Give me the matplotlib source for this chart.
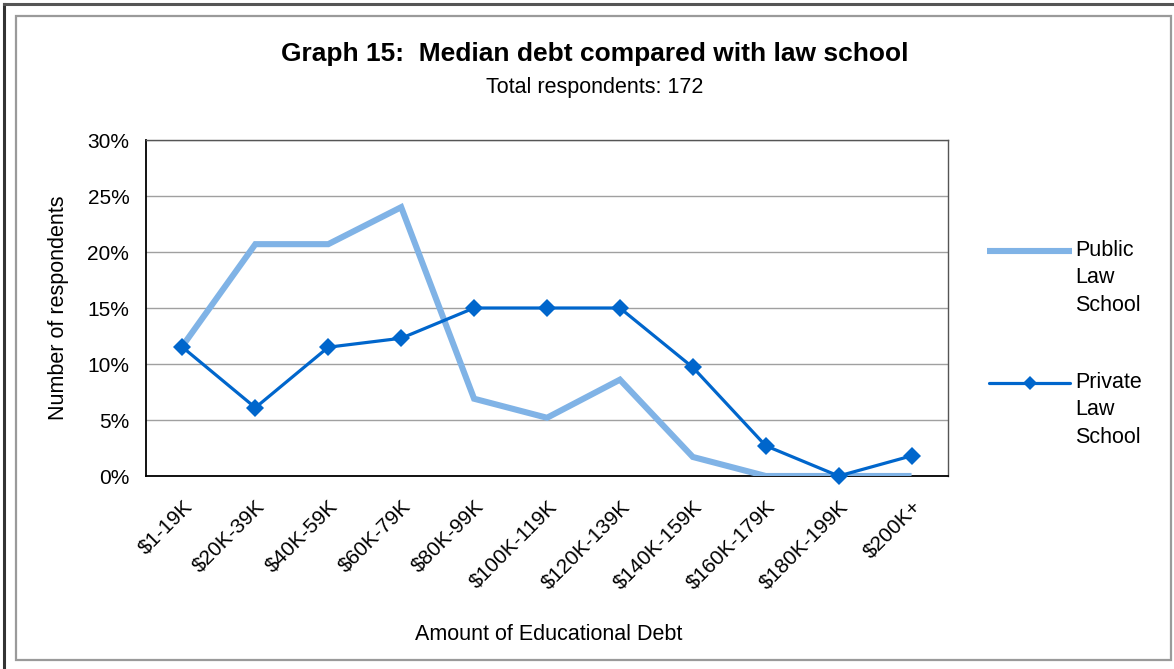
import matplotlib
matplotlib.use("Agg")
import matplotlib.pyplot as plt
from matplotlib.lines import Line2D
from matplotlib.patches import Rectangle
from matplotlib.ticker import FuncFormatter, MultipleLocator
from matplotlib.transforms import ScaledTranslation

plt.rcParams['font.family'] = ['Liberation Sans', 'DejaVu Sans']

categories = ["$1-19K", "$20K-39K", "$40K-59K", "$60K-79K", "$80K-99K",
              "$100K-119K", "$120K-139K", "$140K-159K", "$160K-179K",
              "$180K-199K", "$200K+"]
public_pct = [11.6, 20.7, 20.7, 24.0, 6.9, 5.2, 8.6, 1.7, 0.0, 0.0, 0.0]
private_pct = [11.5, 6.1, 11.5, 12.3, 15.0, 15.0, 15.0, 9.7, 2.7, 0.0, 1.8]

PUBLIC_COLOR = "#80B3E6"
PRIVATE_COLOR = "#0066CC"
FS = 15.5
TICK_FS = 15

W, H = 1174, 669
fig = plt.figure(figsize=(W / 100, H / 100), dpi=100)

# frame around the chart
fig.add_artist(Line2D([4 / W, 4 / W], [0, 1 - 4 / H], transform=fig.transFigure,
                      color="#333333", lw=2.2))
fig.add_artist(Line2D([4 / W, 1], [1 - 4 / H, 1 - 4 / H], transform=fig.transFigure,
                      color="#555555", lw=2.2))
fig.add_artist(Rectangle((16 / W, 1 - 660 / H), (1171 - 16) / W, (660 - 16) / H,
                         transform=fig.transFigure, fill=False,
                         edgecolor="#9A9A9A", lw=1.6))

ax = fig.add_axes([146 / W, 1 - 476 / H, (948 - 146) / W, (476 - 140) / H])
x = list(range(len(categories)))

ax.plot(x, public_pct, color=PUBLIC_COLOR, lw=4.4, solid_joinstyle="miter",
        solid_capstyle="butt", zorder=3)
ax.plot(x, private_pct, color=PRIVATE_COLOR, lw=2.3, marker="D", markersize=9,
        markeredgewidth=0, zorder=4, clip_on=False)

ax.set_xlim(-0.5, len(categories) - 0.5)
ax.set_ylim(0, 30)
ax.yaxis.set_major_locator(MultipleLocator(5))
ax.yaxis.set_major_formatter(FuncFormatter(lambda v, p: f"{v:.0f}%"))
ax.grid(axis="y", color="#A0A0A0", lw=1.0)
ax.set_axisbelow(True)

ax.set_xticks(x)
ax.set_xticklabels(categories, rotation=45, ha="right", rotation_mode="anchor",
                   fontsize=TICK_FS)
shift = ScaledTranslation(-14 / 100, 0, fig.dpi_scale_trans)
for lbl in ax.get_xticklabels():
    lbl.set_transform(lbl.get_transform() + shift)
ax.tick_params(axis="x", length=0, pad=15)
ax.tick_params(axis="y", length=0, pad=12, labelsize=TICK_FS)

for side in ["left", "bottom"]:
    ax.spines[side].set_color("#000000")
    ax.spines[side].set_linewidth(1.3)
for side in ["top", "right"]:
    ax.spines[side].set_color("#555555")
    ax.spines[side].set_linewidth(1.0)

ax.set_ylabel("Number of respondents", fontsize=FS, labelpad=13)
fig.text(549 / W, 1 - 634 / H, "Amount of Educational Debt", fontsize=FS,
         ha="center", va="center")

fig.text(595 / W, 1 - 54 / H, "Graph 15:  Median debt compared with law school",
         fontsize=19, fontweight="bold", ha="center", va="center")
fig.text(595 / W, 1 - 87 / H, "Total respondents: 172", fontsize=FS,
         ha="center", va="center")

# legend drawn beside the plot area
fig.add_artist(Line2D([987 / W, 1072 / W], [1 - 251 / H, 1 - 251 / H],
                      transform=fig.transFigure, color=PUBLIC_COLOR, lw=4.4,
                      solid_capstyle="butt"))
fig.add_artist(Line2D([989 / W, 1070 / W], [1 - 383 / H, 1 - 383 / H],
                      transform=fig.transFigure, color=PRIVATE_COLOR, lw=2.3,
                      solid_capstyle="round"))
fig.add_artist(Line2D([1029.5 / W], [1 - 383 / H], transform=fig.transFigure,
                      color=PRIVATE_COLOR, marker="D", markersize=7.5,
                      markeredgewidth=0))
fig.text(1075 / W, 1 - 240 / H, "Public\nLaw\nSchool", fontsize=FS,
         ha="left", va="top", linespacing=1.4)
fig.text(1075 / W, 1 - 372 / H, "Private\nLaw\nSchool", fontsize=FS,
         ha="left", va="top", linespacing=1.4)

fig.savefig("out.png", dpi=100)
